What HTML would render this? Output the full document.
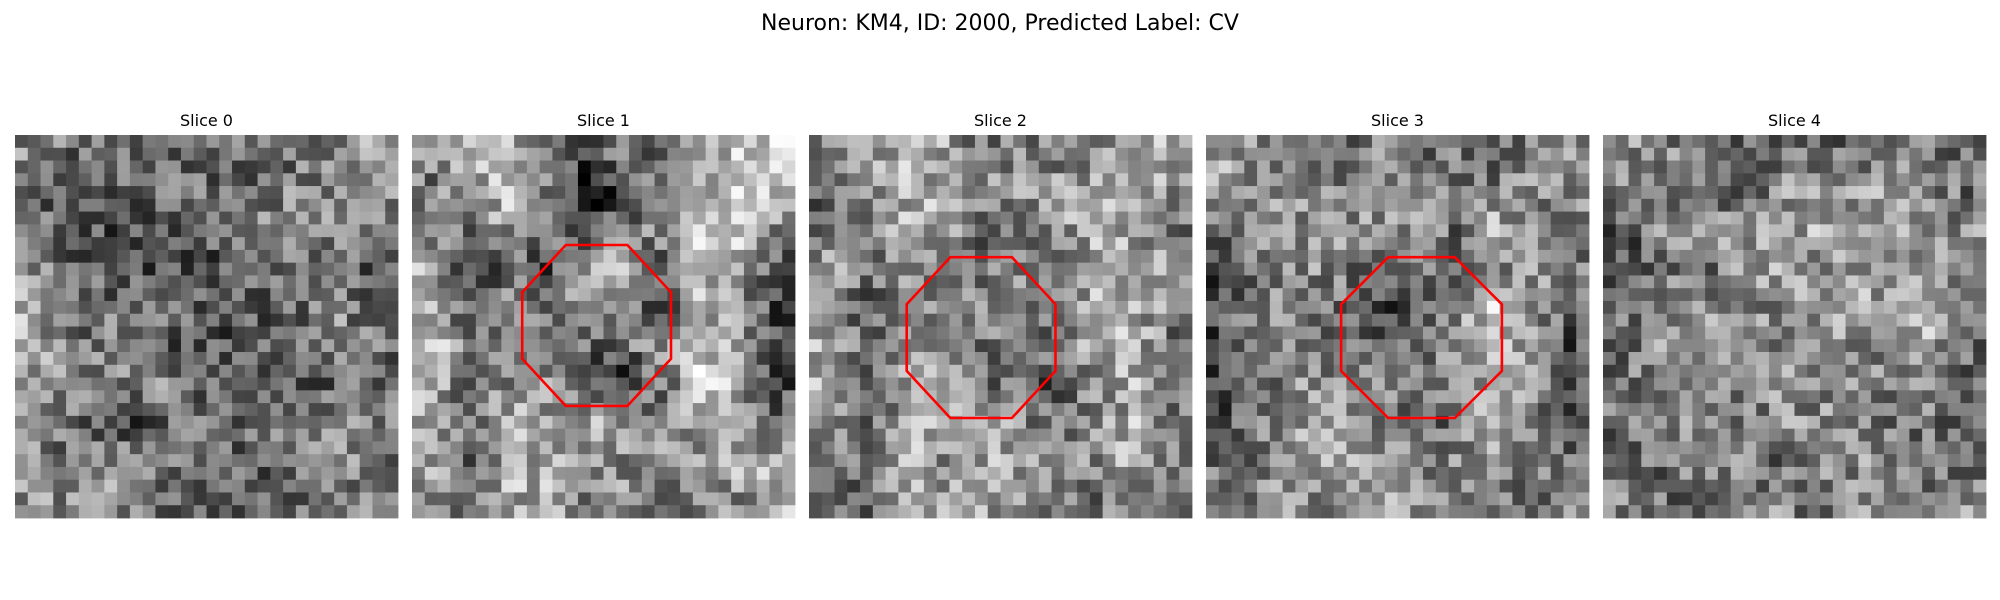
<!DOCTYPE html>
<html><head><meta charset="utf-8"><style>
body{margin:0;background:#fff;width:2000px;height:600px;overflow:hidden;font-family:"Liberation Sans","DejaVu Sans",sans-serif}
svg{display:block}
</style></head><body>
<svg id="fig" width="2000" height="600" xmlns="http://www.w3.org/2000/svg">
<text x="1000" y="30" text-anchor="middle" font-size="22" fill="#000" font-family="DejaVu Sans, Liberation Sans, sans-serif">Neuron: KM4, ID: 2000, Predicted Label: CV</text>
</svg>
<script>
// Coarse 10x10 brightness grids (0=black..9=white), read from each slice
const slice0 = [[5,4,4,4,3,4,4,4,5,6],[4,3,3,4,4,4,4,5,5,5],[4,3,3,3,3,4,5,5,5,4],[5,4,3,3,3,3,4,4,4,3],[6,4,4,4,4,3,3,4,5,3],[6,4,5,4,3,3,4,4,5,4],[5,5,4,5,4,4,3,3,4,4],[5,4,3,3,4,4,4,5,5,4],[5,4,5,4,4,4,3,4,5,4],[5,5,5,4,4,4,4,4,5,4]];
const slice1 = [[5,6,6,4,3,4,4,6,7,7],[4,6,7,5,1,3,4,6,7,6],[5,4,5,4,3,4,5,7,7,5],[6,3,4,3,6,7,3,6,6,3],[6,3,5,4,6,5,3,6,5,3],[7,4,4,4,4,4,5,7,6,3],[6,4,5,6,3,2,4,7,6,3],[6,4,6,5,6,5,5,5,5,4],[6,4,6,6,5,5,6,5,6,6],[4,5,6,6,4,5,4,5,5,6]];
const slice2 = [[4,6,6,6,4,5,4,5,6,6],[3,5,6,6,5,5,6,6,6,5],[4,4,6,6,4,4,5,6,6,4],[6,4,5,5,4,5,4,6,5,6],[6,3,5,5,5,5,4,6,6,5],[6,4,5,5,4,4,4,6,6,4],[6,3,6,6,4,4,3,5,6,4],[5,3,6,7,6,5,4,5,6,4],[5,4,6,5,6,6,5,5,6,5],[4,4,6,6,6,5,4,4,5,5]];
const slice3 = [[6,5,5,4,5,4,4,3,5,5],[6,5,5,5,5,6,4,5,5,5],[4,5,5,5,5,5,4,6,5,4],[3,4,5,5,3,4,4,5,5,5],[3,5,4,4,3,3,5,7,5,4],[3,5,5,4,3,4,5,6,6,3],[3,4,5,5,5,5,5,6,5,3],[3,5,5,6,4,4,4,6,5,3],[4,4,6,6,6,5,5,5,4,4],[4,5,5,5,6,5,5,5,4,5]];
const slice4 = [[5,5,4,4,4,4,4,5,4,4],[5,4,4,3,5,6,5,6,5,4],[3,5,6,6,5,6,5,6,5,5],[3,4,4,5,6,5,5,4,5,4],[4,5,5,5,5,5,6,6,6,5],[4,5,5,5,5,5,5,5,6,4],[4,5,5,5,5,5,5,5,5,4],[4,5,5,4,5,5,5,4,4,4],[4,4,5,5,4,5,5,5,4,4],[5,4,4,4,5,4,5,5,4,5]];
const sliceTitles = ["Slice 0","Slice 1","Slice 2","Slice 3","Slice 4"];
// ROI octagons (center x, center y, radii in cell units); null = none
const roiCx = [null,14.46,13.48,16.88,null];
const roiCy = [null,14.92,15.87,15.87,null];
const roiRx = [null,6.31,6.31,6.82,null];
const roiRy = [null,6.82,6.82,6.82,null];

const grids=[slice0,slice1,slice2,slice3,slice4];
const NS="http://www.w3.org/2000/svg";
const fig=document.getElementById('fig');
const N=30, P0X=15, PY=135, PW=383, PITCH=397, cell=PW/N;
function hash(a,b,c){let h=(a*374761393+b*668265263+c*2147483647)|0;h=(h^(h>>>13))*1274126177|0;h=h^(h>>>16);return ((h>>>0)%1000)/1000;}
function coarse(g,r,c){
  const fy=Math.min(Math.max((r+0.5)/3-0.5,0),9), fx=Math.min(Math.max((c+0.5)/3-0.5,0),9);
  const y0=Math.floor(fy),x0=Math.floor(fx),y1=Math.min(y0+1,9),x1=Math.min(x0+1,9);
  const ty=fy-y0,tx=fx-x0;
  return g[y0][x0]*(1-tx)*(1-ty)+g[y0][x1]*tx*(1-ty)+g[y1][x0]*(1-tx)*ty+g[y1][x1]*tx*ty;
}
grids.forEach((g,k)=>{
  const px=P0X+k*PITCH;
  const grp=document.createElementNS(NS,'g');
  
  
  fig.appendChild(grp);
  for(let r=0;r<N;r++)for(let c=0;c<N;c++){
    let v=-10+coarse(g,r,c)*30+(hash(r,c,k)-0.5)*125;
    v=Math.round(Math.max(0,Math.min(255,v)));
    const re=document.createElementNS(NS,'rect');
    re.setAttribute('x',(px+c*cell).toFixed(2));
    re.setAttribute('y',(PY+r*cell).toFixed(2));
    re.setAttribute('width',(cell+0.4).toFixed(2));
    re.setAttribute('height',(cell+0.4).toFixed(2));
    re.setAttribute('fill','rgb('+v+','+v+','+v+')');
    grp.appendChild(re);
  }
  const t=document.createElementNS(NS,'text');
  t.setAttribute('x',px+PW/2);t.setAttribute('y',126);
  t.setAttribute('text-anchor','middle');t.setAttribute('font-size','16');
  t.setAttribute('font-family','DejaVu Sans, Liberation Sans, sans-serif');
  t.textContent=sliceTitles[k];
  
  
  fig.appendChild(t);
  if(roiCx[k]!==null){
    const pts=[];
    for(let i=0;i<8;i++){const a=(22.5+45*i)*Math.PI/180;
      pts.push((px+(roiCx[k]+roiRx[k]*Math.cos(a))*cell).toFixed(1)+','+(PY+(roiCy[k]+roiRy[k]*Math.sin(a))*cell).toFixed(1));}
    const pg=document.createElementNS(NS,'polygon');
    pg.setAttribute('points',pts.join(' '));
    pg.setAttribute('fill','none');pg.setAttribute('stroke','#ff0000');pg.setAttribute('stroke-width','2.6');
    
    
    fig.appendChild(pg);
  }
});
</script>
</body></html>
